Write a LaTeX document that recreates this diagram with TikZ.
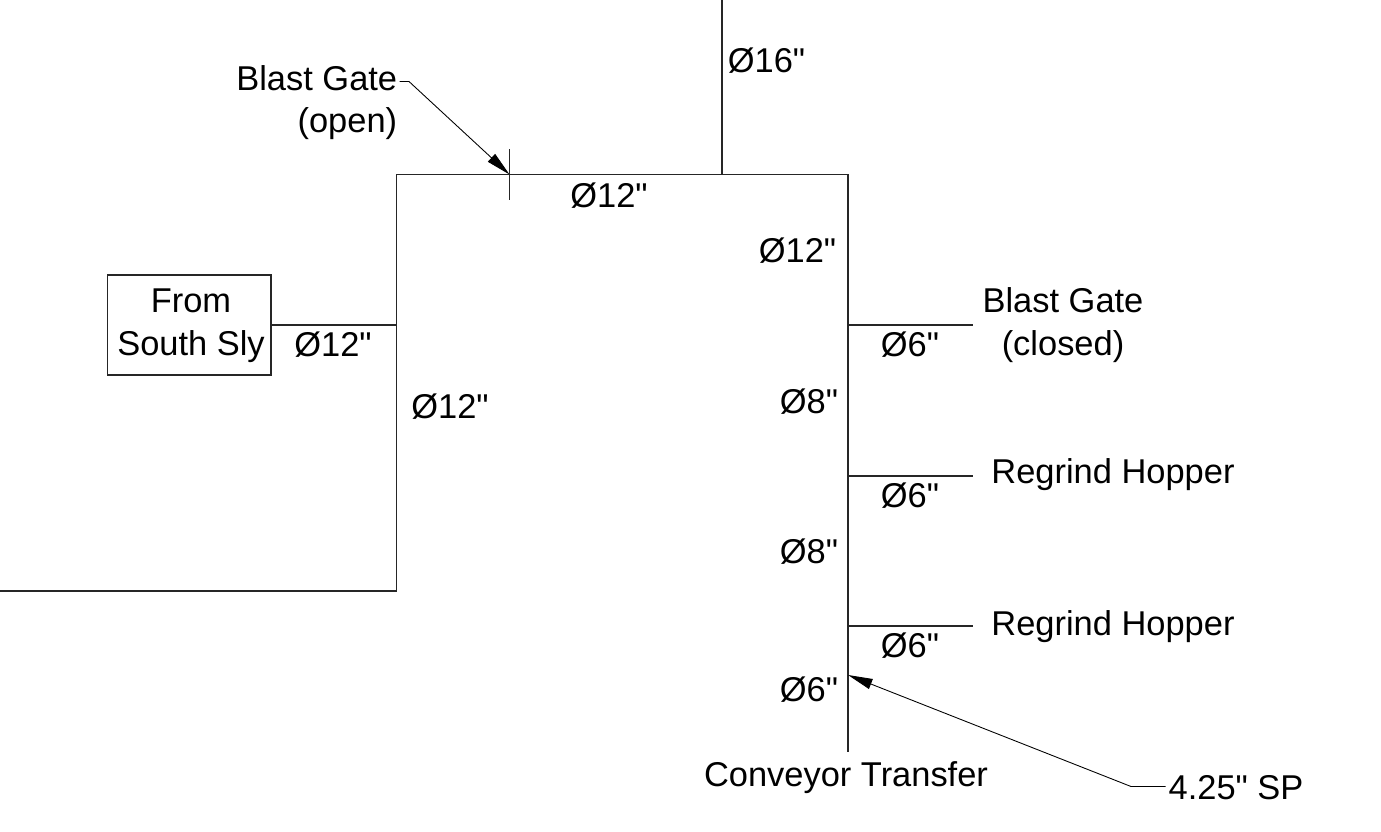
\documentclass[tikz,border=0pt]{standalone}
\usepackage{fontspec}
\setmainfont[Ligatures=TeXOff]{Liberation Sans}
\usepackage{tikz}
\usetikzlibrary{arrows.meta}
\tikzstyle{duct} = [draw=black!85, line width=0.65pt]
\tikzstyle{lbl} = [inner sep=0pt, anchor=base, font=\fontsize{19.6}{24.1}\selectfont, align=center]
\tikzstyle{leader} = [draw=black, line width=0.5pt, -{Triangle[length=14pt,width=6pt,fill=black]}]

\begin{document}
\begin{tikzpicture}[x=0.02cm,y=-0.02cm]
	\useasboundingbox (0,0) rectangle (1381,831);
	% duct corners
	\coordinate (fanTop) at (722,0);
	\coordinate (fanTee) at (722,174.5);
	\coordinate (cornerL) at (396.5,174.5);
	\coordinate (cornerR) at (848,174.5);
	\coordinate (southTee) at (396.5,325);
	\coordinate (cornerB) at (396.5,591);
	\coordinate (leftEnd) at (0,591);
	\coordinate (transferEnd) at (848,752);
	\coordinate (teeA) at (848,325);
	\coordinate (teeB) at (848,476);
	\coordinate (teeC) at (848,626);
	\coordinate (endA) at (973,325);
	\coordinate (endB) at (973,476);
	\coordinate (endC) at (973,626);
	\coordinate (gateTop) at (509.5,149.5);
	\coordinate (gateBot) at (509.5,200);
	\coordinate (gateTip) at (509.5,174.5);
	\coordinate (spTip) at (848,675);
	\coordinate (spKnee) at (1131,786.5);
	\coordinate (spEnd) at (1165.5,786.5);
	\coordinate (gateStart) at (399.5,81.5);
	\coordinate (gateKnee) at (409,81.5);
	% ducts
	\node [duct, minimum width=163.5*0.02cm, minimum height=100*0.02cm, inner sep=0pt] (south) at (189.3,325) {};
	\draw [duct] (fanTop) -- (fanTee);
	\draw [duct] (leftEnd) -- (cornerB) -- (cornerL) -- (cornerR) -- (transferEnd);
	\draw [duct] (south.east) -- (southTee);
	\draw [duct] (teeA) -- (endA);
	\draw [duct] (teeB) -- (endB);
	\draw [duct] (teeC) -- (endC);
	\draw [duct] (gateTop) -- (gateBot);
	% leaders
	\draw [leader] (gateStart) -- (gateKnee) -- (gateTip);
	\draw [leader] (spEnd) -- (spKnee) -- (spTip);
	% labels
	\node [lbl] (sizeFan) at (766.5,73) {Ø16"};
	\node [lbl, anchor=base east, align=right] (gateOpen) at (397.5,133) {Blast Gate\\(open)};
	\node [lbl] (sizeTop) at (609,207) {Ø12"};
	\node [lbl] (sizeR1) at (797.5,262) {Ø12"};
	\node [lbl] (southText) at (191,355) {From\\South Sly};
	\node [lbl] (sizeSouth) at (333,356) {Ø12"};
	\node [lbl] (sizeL) at (450,418) {Ø12"};
	\node [lbl] (gateClosed) at (1063,355) {Blast Gate\\(closed)};
	\node [lbl] (sizeA) at (910,356) {Ø6"};
	\node [lbl] (sizeR2) at (809,413) {Ø8"};
	\node [lbl] (hopperB) at (1113,483) {Regrind Hopper};
	\node [lbl] (sizeB) at (910,507) {Ø6"};
	\node [lbl] (sizeR3) at (809,563) {Ø8"};
	\node [lbl] (hopperC) at (1113,635) {Regrind Hopper};
	\node [lbl] (sizeC) at (910,657) {Ø6"};
	\node [lbl] (sizeR4) at (809,701) {Ø6"};
	\node [lbl] (transfer) at (846,786) {Conveyor Transfer};
	\node [lbl] (spText) at (1236,799) {4.25" SP};
\end{tikzpicture}
\end{document}
